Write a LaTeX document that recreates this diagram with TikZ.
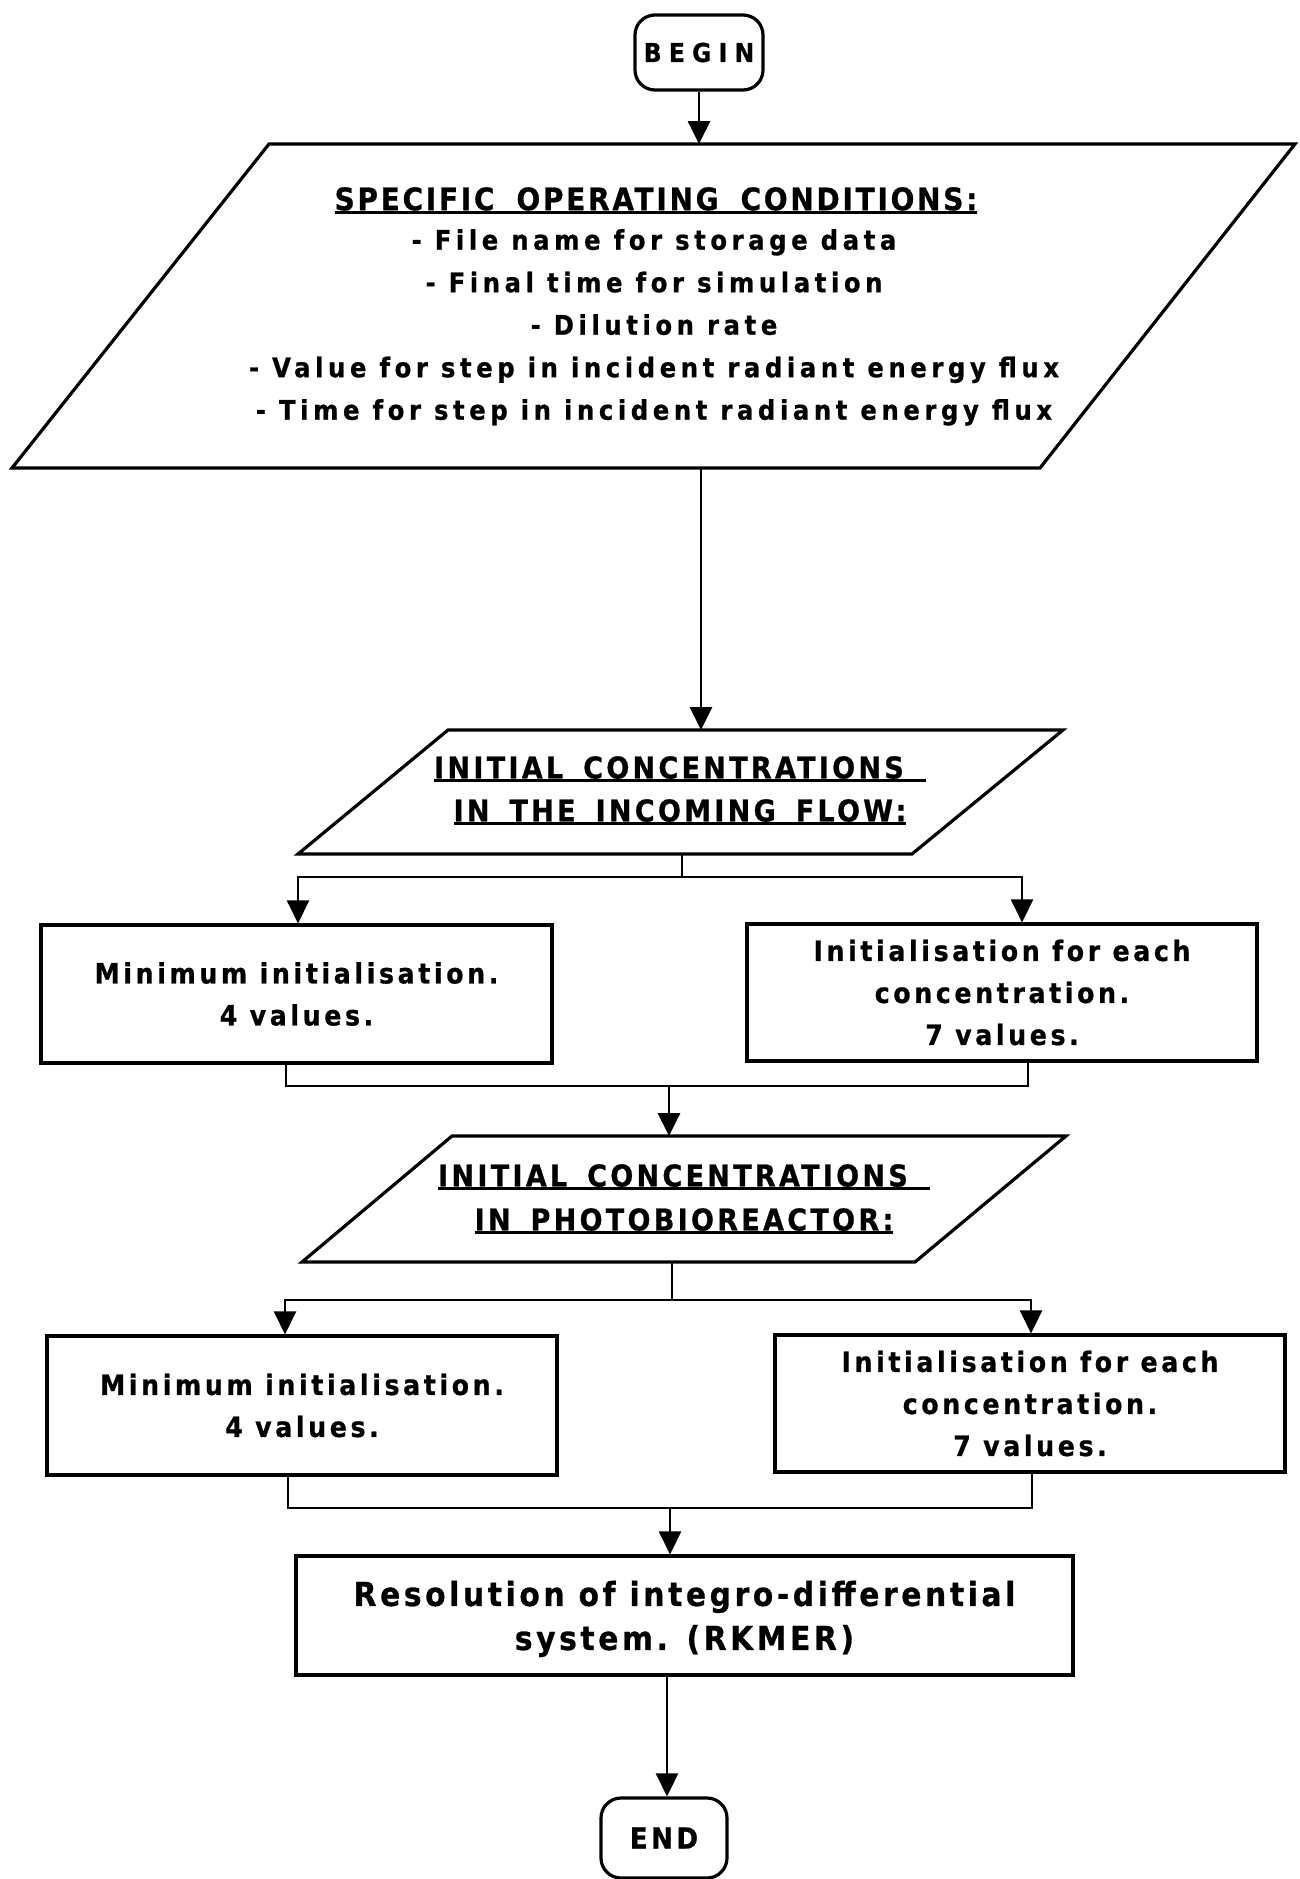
\documentclass[tikz,border=0pt]{standalone}
\usepackage{fontspec}
\setmainfont{DejaVu Sans}[FakeStretch=0.9,FakeBold=0.8]
\usetikzlibrary{arrows.meta}
\newcommand\ulx[1]{\setbox0\hbox{#1}\rlap{\rule[-3.6pt]{\wd0}{2.8pt}}\box0}
\newcommand\fBox{\bfseries\fontsize{28}{42}\selectfont\addfontfeatures{LetterSpace=13}}
\newcommand\fRes{\bfseries\fontsize{33}{44}\selectfont\addfontfeatures{LetterSpace=11}}
\newcommand\fTitle{\bfseries\fontsize{30}{43}\selectfont\addfontfeatures{LetterSpace=11}}
\newcommand\fTitleB{\bfseries\fontsize{30}{44}\selectfont\addfontfeatures{LetterSpace=11}}
\newcommand\fSpec{\bfseries\fontsize{31}{42}\selectfont\addfontfeatures{LetterSpace=9}}
\newcommand\fList{\bfseries\fontsize{27}{42.5}\selectfont\addfontfeatures{LetterSpace=17}}
\newcommand\fBegin{\bfseries\fontsize{26}{30}\selectfont\addfontfeatures{LetterSpace=28}}
\newcommand\fEnd{\bfseries\fontsize{29}{34}\selectfont\addfontfeatures{LetterSpace=12}}
\begin{document}
\begin{tikzpicture}[x=1pt,y=-1pt,
  outline/.style={line width=3.2pt,line join=miter},
  conn/.style={line width=2.8pt},
  arr/.style={conn,-{Triangle[length=23pt,width=22pt]}},
  box/.style={draw,line width=3.2pt,rectangle,inner sep=0pt,align=center,font=\fBox},
  term/.style={draw,line width=3.2pt,rectangle,rounded corners=20pt,inner sep=0pt,align=center},
  ptext/.style={inner sep=0pt,align=center,anchor=north}]
\useasboundingbox (0,0) rectangle (1299,1879);

% BEGIN
\node[term,minimum width=128pt,minimum height=75pt,font=\fBegin] (begin) at (699,52.5) {BEGIN};

% Parallelogram 1
\coordinate (p1tl) at (269,144);
\coordinate (p1tr) at (1295,144);
\coordinate (p1br) at (1040,468);
\coordinate (p1bl) at (12,468);
\draw[outline] (p1tl) -- (p1tr) -- (p1br) -- (p1bl) -- cycle;
\coordinate (p1in) at (699,144);
\coordinate (p1out) at (701,468);
\node[ptext,font=\fSpec] (p1title) at (656,187)
  {\ulx{SPECIFIC\hspace{22pt}OPERATING\hspace{22pt}CONDITIONS:}};
\node[ptext,font=\fList] (p1body) at (654,229)
  {- File name for storage data\\
   - Final time for simulation\\
   - Dilution rate\\
   - Value for step in incident radiant energy flux\\
   - Time for step in incident radiant energy flux};

% Parallelogram 2
\coordinate (p2tl) at (448,730);
\coordinate (p2tr) at (1063,730);
\coordinate (p2br) at (912,854);
\coordinate (p2bl) at (298,854);
\draw[outline] (p2tl) -- (p2tr) -- (p2br) -- (p2bl) -- cycle;
\coordinate (p2in) at (701,730);
\coordinate (p2out) at (682,854);
\node[ptext,font=\fTitle] (p2text) at (680,756)
  {\ulx{INITIAL\hspace{20pt}CONCENTRATIONS\hspace{22pt}}\\
   \ulx{IN\hspace{20pt}THE\hspace{20pt}INCOMING\hspace{20pt}FLOW:}};

% Boxes row 1
\node[box,minimum width=511pt,minimum height=138pt] (b1) at (296.5,994)
  {Minimum initialisation.\\4 values.};
\node[box,minimum width=510pt,minimum height=137pt] (b2) at (1002,992.5)
  {Initialisation for each\\concentration.\\7 values.};

% Parallelogram 3
\coordinate (p3tl) at (452,1136);
\coordinate (p3tr) at (1066,1136);
\coordinate (p3br) at (915,1262);
\coordinate (p3bl) at (302,1262);
\draw[outline] (p3tl) -- (p3tr) -- (p3br) -- (p3bl) -- cycle;
\coordinate (p3in) at (669,1136);
\coordinate (p3out) at (672,1262);
\node[ptext,font=\fTitleB] (p3text) at (684,1164)
  {\ulx{INITIAL\hspace{20pt}CONCENTRATIONS\hspace{22pt}}\\
   \ulx{IN\hspace{20pt}PHOTOBIOREACTOR:}};

% Boxes row 2
\node[box,minimum width=510pt,minimum height=139pt] (b3) at (302,1405.5)
  {Minimum initialisation.\\4 values.};
\node[box,minimum width=510pt,minimum height=137pt] (b4) at (1030,1403.5)
  {Initialisation for each\\concentration.\\7 values.};

% Resolution box
\node[box,minimum width=777pt,minimum height=119pt,font=\fRes] (b5) at (684.5,1615.5)
  {\rule{0pt}{32pt}Resolution of integro-differential\hspace{8pt}\\system. (RKMER)};

% END
\node[term,minimum width=126pt,minimum height=80pt,font=\fEnd] (endn) at (664,1838) {END};

% Connectors
\draw[arr] (begin.south) -- (p1in);
\draw[arr] (p1out) -- (p2in);

\coordinate (br1) at (682,877);
\draw[conn] (p2out) -- (br1);
\draw[arr] (br1) -| ([xshift=1.5pt]b1.north);
\draw[arr] (br1) -| ([xshift=20pt]b2.north);

\coordinate (j1) at (669,1086);
\draw[conn] ([xshift=-10.5pt]b1.south) |- (j1) -| ([xshift=26pt]b2.south);
\draw[arr] (j1) -- (p3in);

\coordinate (br2) at (672,1300);
\draw[conn] (p3out) -- (br2);
\draw[arr] (br2) -| ([xshift=-17pt]b3.north);
\draw[arr] (br2) -| ([xshift=1pt]b4.north);

\coordinate (j2) at (670,1508);
\draw[conn] ([xshift=-14pt]b3.south) |- (j2) -| ([xshift=2pt]b4.south);
\draw[arr] (j2) -- (j2 |- b5.north);

\draw[arr] (b5.south -| 667,0) -- (endn.north -| 667,0);
\end{tikzpicture}
\end{document}
